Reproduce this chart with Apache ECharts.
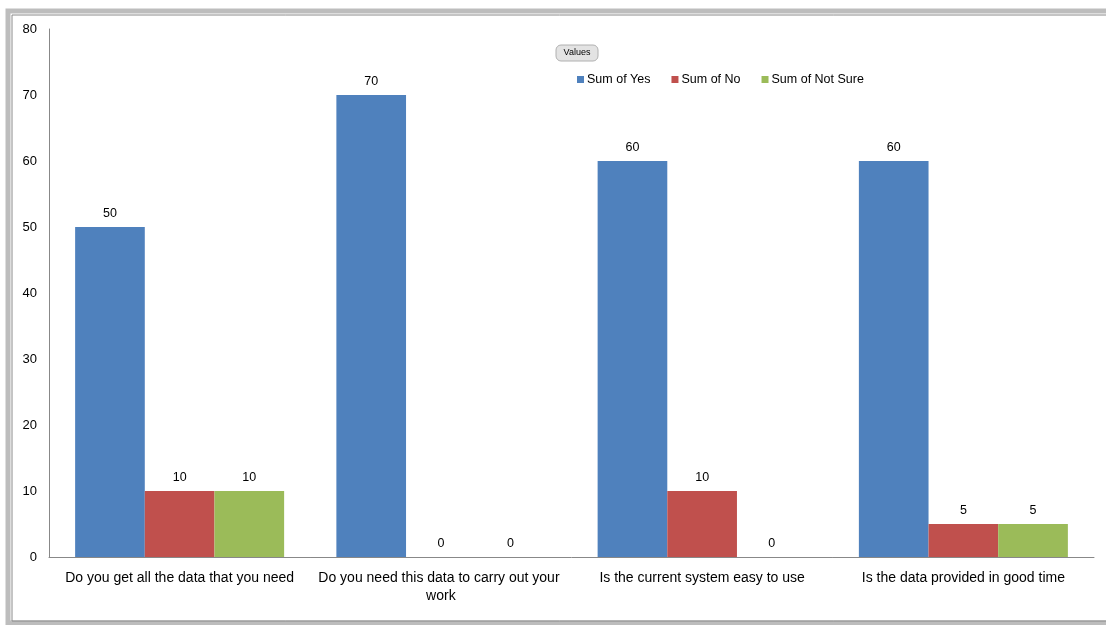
<!DOCTYPE html>
<html>
<head>
<meta charset="utf-8">
<script src="https://cdn.jsdelivr.net/npm/echarts@6/dist/echarts.min.js"></script>
<style>html,body{margin:0;padding:0;background:#fff}#c{width:1106px;height:625px}</style>
</head>
<body>
<div id="c"></div>
<script>
const categories = [
  "Do you get all the data that you need",
  "Do you need this data to carry out your work",
  "Is the current system easy to use",
  "Is the data provided in good time"
];
const seriesNames = ["Sum of Yes", "Sum of No", "Sum of Not Sure"];
const yesValues = [50, 70, 60, 60];
const noValues = [10, 0, 10, 5];
const notSureValues = [10, 0, 0, 5];
const colors = ["#4F81BD", "#C0504D", "#9BBB59"];

const FONT = "Liberation Sans";
const chart = echarts.init(document.getElementById('c'), null, {renderer: 'canvas'});
const mk = (name, data, color) => ({
  name, type: 'bar', data, barGap: '0%', barCategoryGap: '20%',
  itemStyle: {color},
  label: {show: true, position: 'top', distance: 7, color: '#000', fontFamily: FONT, fontSize: 12.5}
});
chart.setOption({
  animation: false,
  textStyle: {fontFamily: FONT},
  grid: {left: 49, right: 12, top: 29, bottom: 68, containLabel: false},
  legend: {
    data: seriesNames, top: 68, left: 572, itemWidth: 7, itemHeight: 7, itemGap: 21,
    icon: 'rect', textStyle: {fontFamily: FONT, fontSize: 12.5, color: '#000', padding: [0,0,0,-2]}
  },
  xAxis: {
    type: 'category', data: categories,
    axisLine: {lineStyle: {color: '#888', width: 1}},
    axisTick: {show: false},
    axisLabel: {interval: 0, color: '#000', fontSize: 14, fontFamily: FONT, margin: 12,
      width: 252, overflow: 'break', lineHeight: 18}
  },
  yAxis: {
    type: 'value', min: 0, max: 80, interval: 10,
    axisLine: {show: true, lineStyle: {color: '#888', width: 1}},
    axisTick: {show: false},
    splitLine: {show: false},
    axisLabel: {color: '#000', fontSize: 13, fontFamily: FONT, margin: 12}
  },
  graphic: [
    {type: 'rect', shape: {x: 8, y: 11, width: 1110, height: 612}, style: {fill: 'none', stroke: '#bdbdbd', lineWidth: 5}, z: 100},
    {type: 'rect', shape: {x: 12, y: 15, width: 1110, height: 606}, style: {fill: 'none', stroke: '#8a8a8a', lineWidth: 1}, z: 100},
    {type: 'rect', shape: {x: 556, y: 45, width: 42, height: 16, r: 5}, style: {fill: '#e3e3e3', stroke: '#b0b0b0', lineWidth: 1}, z: 100},
    {type: 'text', x: 577, y: 53, style: {text: 'Values', fontSize: 9, fontFamily: FONT, fill: '#000', align: 'center', verticalAlign: 'middle'}, z: 101}
  ],
  series: [
    mk(seriesNames[0], yesValues, colors[0]),
    mk(seriesNames[1], noValues, colors[1]),
    mk(seriesNames[2], notSureValues, colors[2])
  ]
});
</script>
</body>
</html>
